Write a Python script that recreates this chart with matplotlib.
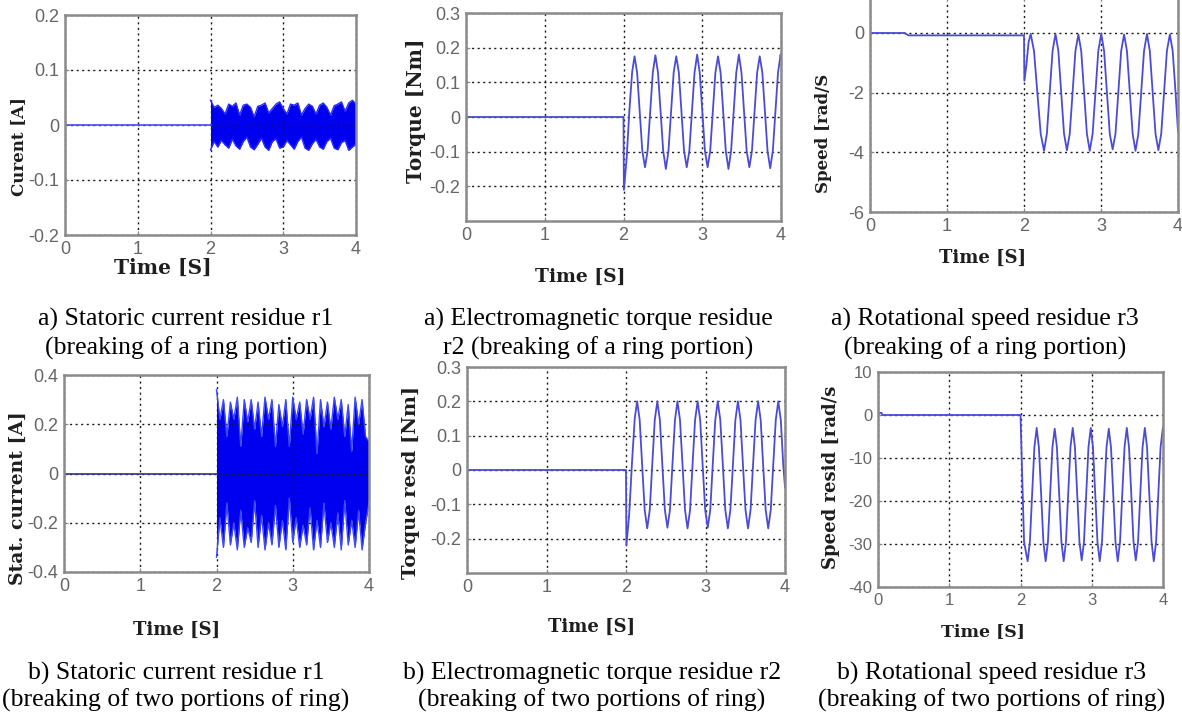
import matplotlib
matplotlib.use('Agg')
import matplotlib.pyplot as plt

# ---- data ----
time_ticks = [0, 1, 2, 3, 4]
time_tick_labels = ['0', '1', '2', '3', '4']

# a) statoric current residue r1 (dense band after t=2)
cur_a_base_t = [0.0, 2.0]
cur_a_base_y = [0.0, 0.0]
cur_a_t = [2.00, 2.05, 2.10, 2.15, 2.20, 2.25, 2.30, 2.35, 2.40, 2.45,
           2.50, 2.55, 2.60, 2.65, 2.70, 2.75, 2.80, 2.85, 2.90, 2.95,
           3.00, 3.05, 3.10, 3.15, 3.20, 3.25, 3.30, 3.35, 3.40, 3.45,
           3.50, 3.55, 3.60, 3.65, 3.70, 3.75, 3.80, 3.85, 3.90, 3.95,
           4.00]
cur_a_up = [0.045, 0.032, 0.036, 0.030, 0.020, 0.038, 0.034, 0.040, 0.018, 0.036,
            0.038, 0.032, 0.015, 0.034, 0.036, 0.040, 0.022, 0.030, 0.038, 0.042,
            0.030, 0.020, 0.038, 0.036, 0.040, 0.018, 0.030, 0.038, 0.034, 0.020,
            0.036, 0.040, 0.032, 0.018, 0.035, 0.038, 0.042, 0.025, 0.040, 0.045,
            0.038]
cur_a_low = [-0.045, -0.030, -0.040, -0.028, -0.036, -0.042, -0.026, -0.038, -0.044, -0.030,
             -0.022, -0.040, -0.045, -0.035, -0.024, -0.040, -0.046, -0.030, -0.025, -0.042,
             -0.040, -0.028, -0.036, -0.044, -0.030, -0.022, -0.042, -0.046, -0.034, -0.026,
             -0.040, -0.044, -0.030, -0.024, -0.042, -0.045, -0.032, -0.028, -0.046, -0.040,
             -0.035]
cur_a_yticks = [-0.2, -0.1, 0, 0.1, 0.2]
cur_a_ylabels = ['-0.2', '-0.1', '0', '0.1', '0.2']

# a) electromagnetic torque residue r2
tq_a_t = [0.0, 2.0, 2.005, 2.04, 2.075, 2.11,
          2.140, 2.173, 2.206, 2.239, 2.273, 2.306, 2.339, 2.372,
          2.405, 2.438, 2.471, 2.504, 2.538, 2.571, 2.604, 2.637,
          2.670, 2.703, 2.736, 2.769, 2.803, 2.836, 2.869, 2.902,
          2.935, 2.968, 3.001, 3.034, 3.068, 3.101, 3.134, 3.167,
          3.200, 3.233, 3.266, 3.299, 3.333, 3.366, 3.399, 3.432,
          3.465, 3.498, 3.531, 3.564, 3.598, 3.631, 3.664, 3.697,
          3.730, 3.763, 3.796, 3.829, 3.863, 3.896, 3.929, 3.962,
          3.995, 4.0]
tq_a_y = [0.0, 0.0, -0.21, -0.12, 0.02, 0.13,
          0.175, 0.128, 0.015, -0.098, -0.145, -0.098, 0.015, 0.128,
          0.178, 0.128, 0.015, -0.098, -0.150, -0.098, 0.015, 0.128,
          0.175, 0.128, 0.015, -0.098, -0.145, -0.098, 0.015, 0.128,
          0.180, 0.128, 0.015, -0.098, -0.145, -0.098, 0.015, 0.128,
          0.175, 0.128, 0.015, -0.098, -0.150, -0.098, 0.015, 0.128,
          0.180, 0.128, 0.015, -0.098, -0.145, -0.098, 0.015, 0.128,
          0.175, 0.128, 0.015, -0.098, -0.148, -0.098, 0.015, 0.128,
          0.180, 0.17]
tq_yticks = [-0.2, -0.1, 0, 0.1, 0.2, 0.3]
tq_ylabels = ['-0.2', '-0.1', '0', '0.1', '0.2', '0.3']

# a) rotational speed residue r3
spd_a_t = [0.0, 0.45, 0.50, 2.0, 2.005, 2.03, 2.06, 2.087, 2.13, 2.173, 2.217,
           2.260, 2.297, 2.334, 2.371, 2.409, 2.446, 2.483, 2.520,
           2.557, 2.594, 2.631, 2.668, 2.706, 2.743, 2.780, 2.817,
           2.854, 2.891, 2.928, 2.965, 3.003, 3.040, 3.077, 3.114,
           3.151, 3.188, 3.225, 3.262, 3.300, 3.337, 3.374, 3.411,
           3.448, 3.485, 3.522, 3.559, 3.597, 3.634, 3.671, 3.708,
           3.745, 3.782, 3.819, 3.856, 3.894, 3.931, 3.968, 4.0]
spd_a_y = [0.0, 0.0, -0.08, -0.08, -1.6, -1.1, -0.3, -0.03, -0.6, -1.99, -3.38,
           -3.95, -3.38, -1.99, -0.60, -0.03, -0.60, -1.99, -3.38,
           -3.93, -3.38, -1.99, -0.60, -0.05, -0.60, -1.99, -3.38,
           -3.95, -3.38, -1.99, -0.60, -0.03, -0.60, -1.99, -3.38,
           -3.90, -3.38, -1.99, -0.60, -0.05, -0.60, -1.99, -3.38,
           -3.95, -3.38, -1.99, -0.60, -0.03, -0.60, -1.99, -3.38,
           -3.93, -3.38, -1.99, -0.60, -0.05, -0.60, -1.99, -3.30]
spd_a_yticks = [-6, -4, -2, 0]
spd_a_ylabels = ['-6', '-4', '-2', '0']

# b) statoric current residue r1
cur_b_base_t = [0.0, 2.0]
cur_b_base_y = [0.0, 0.0]
cur_b_t = [2.000, 2.045, 2.091, 2.136, 2.182, 2.227, 2.273, 2.318, 2.364, 2.409,
           2.455, 2.500, 2.545, 2.591, 2.636, 2.682, 2.727, 2.773, 2.818, 2.864,
           2.909, 2.955, 3.000, 3.045, 3.091, 3.136, 3.182, 3.227, 3.273, 3.318,
           3.364, 3.409, 3.455, 3.500, 3.545, 3.591, 3.636, 3.682, 3.727, 3.773,
           3.818, 3.864, 3.909, 3.955, 4.000]
cur_b_up = [0.34, 0.22, 0.30, 0.15, 0.29, 0.22, 0.31, 0.11, 0.30, 0.21,
            0.30, 0.18, 0.29, 0.15, 0.31, 0.22, 0.30, 0.11, 0.28, 0.19,
            0.30, 0.11, 0.31, 0.22, 0.29, 0.16, 0.30, 0.22, 0.31, 0.08,
            0.30, 0.19, 0.29, 0.18, 0.31, 0.22, 0.30, 0.15, 0.28, 0.09,
            0.31, 0.20, 0.30, 0.15, 0.13]
cur_b_low = [-0.34, -0.18, -0.30, -0.12, -0.29, -0.20, -0.31, -0.15, -0.30, -0.22,
             -0.28, -0.11, -0.30, -0.17, -0.31, -0.20, -0.29, -0.13, -0.30, -0.19,
             -0.31, -0.10, -0.28, -0.18, -0.30, -0.21, -0.29, -0.14, -0.31, -0.19,
             -0.30, -0.12, -0.28, -0.20, -0.30, -0.16, -0.31, -0.11, -0.29, -0.19,
             -0.30, -0.15, -0.31, -0.20, -0.12]
cur_b_yticks = [-0.4, -0.2, 0, 0.2, 0.4]
cur_b_ylabels = ['-0.4', '-0.2', '0', '0.2', '0.4']

# b) electromagnetic torque residue r2
tq_b_t = [0.0, 2.0, 2.005, 2.04, 2.075, 2.11,
          2.140, 2.172, 2.203, 2.235, 2.267, 2.299, 2.330, 2.362,
          2.394, 2.426, 2.457, 2.489, 2.521, 2.553, 2.584, 2.616,
          2.647, 2.679, 2.711, 2.742, 2.774, 2.806, 2.837, 2.869,
          2.901, 2.933, 2.964, 2.996, 3.028, 3.060, 3.091, 3.123,
          3.154, 3.186, 3.218, 3.249, 3.281, 3.313, 3.345, 3.376,
          3.408, 3.440, 3.471, 3.503, 3.535, 3.567, 3.598, 3.630,
          3.662, 3.694, 3.725, 3.757, 3.789, 3.821, 3.852, 3.884,
          3.915, 3.947, 3.978, 4.0]
tq_b_y = [0.0, 0.0, -0.22, -0.13, 0.02, 0.15,
          0.200, 0.146, 0.015, -0.116, -0.170, -0.116, 0.015, 0.146,
          0.200, 0.146, 0.015, -0.116, -0.168, -0.116, 0.015, 0.146,
          0.200, 0.146, 0.015, -0.116, -0.170, -0.116, 0.015, 0.146,
          0.200, 0.146, 0.015, -0.116, -0.168, -0.116, 0.015, 0.146,
          0.200, 0.146, 0.015, -0.116, -0.170, -0.116, 0.015, 0.146,
          0.200, 0.146, 0.015, -0.116, -0.170, -0.116, 0.015, 0.146,
          0.200, 0.146, 0.015, -0.116, -0.170, -0.116, 0.015, 0.146,
          0.200, 0.146, 0.015, -0.05]

# b) rotational speed residue r3
spd_b_t = [0.0, 0.05, 0.06, 2.0, 2.02, 2.05,
           2.100, 2.132, 2.163, 2.195, 2.227, 2.258, 2.290, 2.321,
           2.353, 2.385, 2.416, 2.448, 2.480, 2.511, 2.543, 2.574,
           2.606, 2.638, 2.669, 2.701, 2.733, 2.764, 2.796, 2.827,
           2.859, 2.891, 2.922, 2.954, 2.986, 3.017, 3.049, 3.080,
           3.112, 3.144, 3.175, 3.207, 3.239, 3.270, 3.302, 3.333,
           3.365, 3.397, 3.428, 3.460, 3.492, 3.523, 3.555, 3.586,
           3.618, 3.650, 3.681, 3.713, 3.745, 3.776, 3.808, 3.839,
           3.871, 3.903, 3.934, 3.966, 3.998]
spd_b_y = [0.5, 0.5, 0.0, 0.0, -12.0, -29.5,
           -34.0, -29.5, -18.5, -7.5, -3.0, -7.5, -18.5, -29.5,
           -34.0, -29.5, -18.5, -7.5, -3.2, -7.5, -18.5, -29.5,
           -34.0, -29.5, -18.5, -7.5, -3.0, -7.5, -18.5, -29.5,
           -33.8, -29.5, -18.5, -7.5, -3.0, -7.5, -18.5, -29.5,
           -34.0, -29.5, -18.5, -7.5, -3.2, -7.5, -18.5, -29.5,
           -34.0, -29.5, -18.5, -7.5, -3.0, -7.5, -18.5, -29.5,
           -33.8, -29.5, -18.5, -7.5, -3.0, -7.5, -18.5, -29.5,
           -34.0, -29.5, -18.5, -7.5, -3.0]
spd_b_yticks = [-40, -30, -20, -10, 0, 10]
spd_b_ylabels = ['-40', '-30', '-20', '-10', '0', '10']

captions_a = [("a) Statoric current residue r1", "(breaking of a ring portion)"),
              ("a) Electromagnetic torque residue", "r2 (breaking of a ring portion)"),
              ("a) Rotational speed residue r3", "(breaking of a ring portion)")]
captions_b = [("b) Statoric current residue r1", "(breaking of two portions of ring)"),
              ("b) Electromagnetic torque residue r2", "(breaking of two portions of ring)"),
              ("b) Rotational speed residue r3", "(breaking of two portions of ring)")]


W, H = 1182, 715
plt.rcParams['font.family'] = ['Liberation Sans', 'DejaVu Sans']
fig = plt.figure(figsize=(W / 100, H / 100), dpi=100)
fig.patch.set_facecolor('white')


def px_axes(l, t, r, b):
    return fig.add_axes([l / W, 1 - b / H, (r - l) / W, (b - t) / H])


def style(ax, ylim, yticks, ylabels, tsize=13):
    ax.set_xlim(0, 4)
    ax.set_ylim(*ylim)
    ax.set_xticks(time_ticks)
    ax.set_xticklabels(time_tick_labels)
    ax.set_yticks(yticks)
    ax.set_yticklabels(ylabels)
    ax.grid(True, color='#1a1a1a', linestyle=(0, (1.5, 2.5)), lw=1.0)
    for s in ax.spines.values():
        s.set_color('#8a8a8a')
        s.set_linewidth(1.8)
    ax.tick_params(direction='in', length=3, colors='#8a8a8a', labelcolor='#666666',
                   labelsize=tsize, pad=4)


def labels(ax, xl, xs, xpos, yl, ys, ypos):
    ax.set_xlabel(xl, fontfamily='DejaVu Serif', fontweight='bold', fontsize=xs, color='#1e1e1e')
    ax.xaxis.set_label_coords(*xpos)
    ax.xaxis.label.set_va('center')
    ax.set_ylabel(yl, fontfamily='DejaVu Serif', fontweight='bold', fontsize=ys, color='#1e1e1e')
    ax.yaxis.set_label_coords(*ypos)
    ax.yaxis.label.set_va('center')


line_col = '#4b4bd6'
band_col = '#0000f0'

# top row
ax1 = px_axes(65, 15, 356, 235)
style(ax1, (-0.2, 0.2), cur_a_yticks, cur_a_ylabels)
ax1.plot(cur_a_base_t, cur_a_base_y, color='#4a4aff', lw=1.2)
ax1.fill_between(cur_a_t, cur_a_low, cur_a_up, color=band_col, lw=0)
ax1.plot(cur_a_t, cur_a_up, color='#2a2aff', lw=1)
ax1.plot(cur_a_t, cur_a_low, color='#2a2aff', lw=1)
labels(ax1, 'Time [S]', 14.5, (0.337, -0.15), 'Curent [A]', 12, (-0.16, 0.40))

ax2 = px_axes(466, 13, 781, 221)
style(ax2, (-0.3, 0.3), tq_yticks, tq_ylabels)
ax2.plot(tq_a_t, tq_a_y, color=line_col, lw=1.3)
labels(ax2, 'Time [S]', 13.5, (0.362, -0.269), 'Torque [Nm]', 14.5, (-0.16, 0.53))

ax3 = px_axes(870, 0, 1178, 212)
style(ax3, (-6, 1.106), spd_a_yticks, spd_a_ylabels)
ax3.spines['top'].set_visible(False)
ax3.plot(spd_a_t, spd_a_y, color=line_col, lw=1.3)
labels(ax3, 'Time [S]', 13, (0.367, -0.217), 'Speed [rad/S', 12, (-0.15, 0.37))

# bottom row
ax4 = px_axes(64, 375, 369, 572)
style(ax4, (-0.4, 0.4), cur_b_yticks, cur_b_ylabels)
ax4.plot(cur_b_base_t, cur_b_base_y, color='#30308a', lw=1.2)
ax4.fill_between(cur_b_t, cur_b_low, cur_b_up, color=band_col, lw=0)
ax4.plot(cur_b_t, cur_b_up, color='#3b48ff', lw=1)
ax4.plot(cur_b_t, cur_b_low, color='#3b48ff', lw=1)
labels(ax4, 'Time [S]', 13, (0.37, -0.294), 'Stat. current [A]', 13.5, (-0.15, 0.375))

ax5 = px_axes(467, 367, 785, 573)
style(ax5, (-0.3, 0.3), tq_yticks, tq_ylabels)
ax5.plot(tq_b_t, tq_b_y, color=line_col, lw=1.3)
labels(ax5, 'Time [S]', 13, (0.393, -0.262), 'Torque resd [Nm]', 14, (-0.175, 0.44))

ax6 = px_axes(878, 372, 1163, 587)
style(ax6, (-40, 10), spd_b_yticks, spd_b_ylabels, tsize=12)
ax6.plot(spd_b_t, spd_b_y, color=line_col, lw=1.3)
labels(ax6, 'Time [S]', 12.5, (0.368, -0.209), 'Speed resid [rad/s', 13, (-0.165, 0.51))

# captions
cap_x = [186, 598, 985]
cap_b_x = [176, 592, 992]
for (l1, l2), cx in zip(captions_a, cap_x):
    fig.text(cx / W, 1 - 326 / H, l1, ha='center', va='baseline', fontsize=18.5,
             family='Liberation Serif', color='black')
    fig.text(cx / W, 1 - 355 / H, l2, ha='center', va='baseline', fontsize=18.5,
             family='Liberation Serif', color='black')
for (l1, l2), cx in zip(captions_b, cap_b_x):
    fig.text(cx / W, 1 - 680 / H, l1, ha='center', va='baseline', fontsize=18.5,
             family='Liberation Serif', color='black')
    fig.text(cx / W, 1 - 707 / H, l2, ha='center', va='baseline', fontsize=18.5,
             family='Liberation Serif', color='black')

fig.savefig('out.png', dpi=100)
